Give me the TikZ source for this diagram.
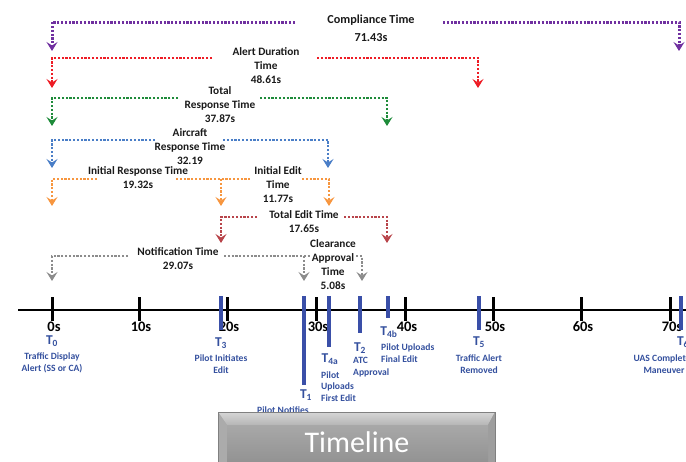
\documentclass[tikz,border=0pt]{standalone}
\usepackage{fontspec}
\setmainfont{Carlito}
\usetikzlibrary{arrows.meta}
\definecolor{cPurple}{HTML}{7030A0}
\definecolor{cRed}{HTML}{EE1C25}
\definecolor{cGreen}{HTML}{1E8B3A}
\definecolor{cBlue}{HTML}{4A7EC7}
\definecolor{cOrange}{HTML}{F7963F}
\definecolor{cDarkRed}{HTML}{B8444A}
\definecolor{cGray}{HTML}{8C8C8C}
\definecolor{cBar}{HTML}{3A4FA8}
\definecolor{cLabel}{HTML}{34509E}
\definecolor{cText}{HTML}{1A1A1A}
\definecolor{plateTop}{HTML}{D6D6D6}
\definecolor{plateBevel}{HTML}{B6B6B6}
\definecolor{plateSide}{HTML}{ABABAB}
\definecolor{plateSideR}{HTML}{9E9E9E}
\definecolor{plateFaceT}{HTML}{A8A8A8}
\definecolor{plateFaceB}{HTML}{8E8E8E}
\begin{document}
\begin{tikzpicture}[x=1pt,y=-1pt,
  seg/.style={line width=2.6pt, dash pattern=on 2.2pt off 1.6pt},
  span/.style={seg, -{Stealth[length=9pt, width=11pt, inset=3.5pt]}},
  spanlabel/.style={font=\fontsize{11.3}{14}\selectfont\bfseries, text=cText,
    align=center, inner sep=0pt},
  tick/.style={line width=3pt, black},
  bar/.style={line width=3.4pt, cBar},
  ticklabel/.style={font=\fontsize{14.5}{15}\selectfont\bfseries, inner sep=0pt},
  tname/.style={font=\fontsize{13.5}{14}\selectfont\bfseries, text=cLabel, inner sep=0pt},
  event/.style={font=\fontsize{9.6}{11.5}\selectfont\bfseries, text=cLabel,
    inner sep=0pt},
]
\clip (0,0) rectangle (686,461);
\useasboundingbox (0,0) rectangle (686,461);

% ---------- span brackets ----------
% Compliance time
\node[spanlabel, font=\fontsize{12.2}{18}\selectfont\bfseries] (compl) at (371,28) {Compliance Time\\71.43s};
\coordinate (complL) at (295,22); \coordinate (complLa) at (52,51);
\coordinate (complR) at (443,22); \coordinate (complRa) at (679,51);
\draw[span, cPurple, line width=3pt] (complL) -| (complLa);
\draw[span, cPurple, line width=3pt] (complR) -| (complRa);

% Alert duration time
\node[spanlabel] (alert) at (266,66) {Alert Duration\\Time\\48.61s};
\coordinate (alertL) at (212,58); \coordinate (alertLa) at (52,88);
\coordinate (alertR) at (317,58); \coordinate (alertRa) at (478,88);
\draw[span, cRed] (alertL) -| (alertLa);
\draw[span, cRed] (alertR) -| (alertRa);

% Total response time
\node[spanlabel] (totresp) at (220,105) {Total\\Response Time\\37.87s};
\coordinate (totrespL) at (178,98); \coordinate (totrespLa) at (52,126);
\coordinate (totrespR) at (260,98); \coordinate (totrespRa) at (387,126);
\draw[span, cGreen] (totrespL) -| (totrespLa);
\draw[span, cGreen] (totrespR) -| (totrespRa);

% Aircraft response time
\node[spanlabel] (acresp) at (190,147) {Aircraft\\Response Time\\32.19};
\coordinate (acrespL) at (155,140); \coordinate (acrespLa) at (52,168);
\coordinate (acrespR) at (223,140); \coordinate (acrespRa) at (328,168);
\draw[span, cBlue] (acrespL) -| (acrespLa);
\draw[span, cBlue] (acrespR) -| (acrespRa);

% Initial response time and initial edit time (shared leg at T3)
\node[spanlabel] (inresp) at (138,178) {Initial Response Time\\19.32s};
\node[spanlabel] (inedit) at (278,185) {Initial Edit\\Time\\11.77s};
\coordinate (inrespL) at (97,179); \coordinate (inrespLa) at (52,206);
\coordinate (inrespR) at (176,179); \coordinate (midAt) at (221,179);
\coordinate (midA) at (221,206);
\coordinate (ineditL) at (250,179);
\coordinate (ineditR) at (302,179); \coordinate (ineditRa) at (329,206);
\draw[span, cOrange] (inrespL) -| (inrespLa);
\draw[seg, cOrange] (inrespR) -- (ineditL);
\draw[span, cOrange] (midAt) -- (midA);
\draw[span, cOrange] (ineditR) -| (ineditRa);

% Total edit time
\node[spanlabel] (totedit) at (304,222) {Total Edit Time\\17.65s};
\coordinate (toteditL) at (257,217); \coordinate (toteditLa) at (221,243);
\coordinate (toteditR) at (344,217); \coordinate (toteditRa) at (387,243);
\draw[span, cDarkRed] (toteditL) -| (toteditLa);
\draw[span, cDarkRed] (toteditR) -| (toteditRa);

% Notification time and clearance approval time (shared leg at T1)
\node[spanlabel] (notif) at (178,259) {Notification Time\\29.07s};
\node[spanlabel] (clear) at (333,265) {Clearance\\Approval\\Time\\5.08s};
\coordinate (notifL) at (128,256); \coordinate (notifLa) at (52,281);
\coordinate (notifR) at (224,256); \coordinate (midBt) at (304,256);
\coordinate (midB) at (304,281);
\coordinate (clearL) at (310,256);
\coordinate (clearR) at (356,256); \coordinate (clearRa) at (362,281);
\draw[span, cGray] (notifL) -| (notifLa);
\draw[seg, cGray] (notifR) -- (clearL);
\draw[span, cGray] (midBt) -- (midB);
\draw[span, cGray] (clearR) -| (clearRa);

% ---------- axis ----------
\coordinate (axL) at (18,310); \coordinate (axR) at (686,310);
\draw[line width=2.6pt] (axL) -- (axR);
\foreach \i/\x in {0/52,10/139,20/227,30/316,40/405,50/493,60/581,70/670} {
  \coordinate (tk\i a) at (\x,297); \coordinate (tk\i b) at (\x,321);
  \draw[tick] (tk\i a) -- (tk\i b);
  \node[ticklabel] (tl\i) at (\x+2,327) {\i s};
}

% ---------- event labels ----------
\node[tname] (t0) at (52,341) {T\textsubscript{0}};
\node[event, align=center] (e0) at (52,363) {Traffic Display\\Alert (SS or CA)};
\node[tname] (t3) at (221,343) {T\textsubscript{3}};
\node[event, align=center] (e3) at (221,364) {Pilot Initiates\\Edit};
\node[tname] (t1) at (306,395) {T\textsubscript{1}};
\node[event, align=center] (e1) at (283,410) {Pilot Notifies};
\node[tname] (t4a) at (330,359) {T\textsubscript{4a}};
\node[event, align=left, anchor=west] (e4a) at (321,386.5) {Pilot\\Uploads\\First Edit};
\node[tname] (t2) at (360,348) {T\textsubscript{2}};
\node[event, align=left, anchor=west] (e2) at (353,367) {ATC\\Approval};
\node[tname] (t4b) at (389,332) {T\textsubscript{4b}};
\node[event, align=left, anchor=west] (e4b) at (381,353) {Pilot Uploads\\Final Edit};
\node[tname] (t5) at (479,342) {T\textsubscript{5}};
\node[event, align=center] (e5) at (479,364) {Traffic Alert\\Removed};
\node[tname] (t6) at (683,342) {T\textsubscript{6}};
\node[event, align=center] (e6) at (664,364) {UAS Completes\\Maneuver};

% ---------- event bars ----------
\foreach \n/\x/\y in {b3/221/330, b1/304/385, b4a/329/347, b2/360/333,
                      b4b/388/318, b5/479/330, b6/681/330} {
  \coordinate (\n a) at (\x,296); \coordinate (\n b) at (\x,\y);
  \draw[bar] (\n a) -- (\n b);
}

% ---------- bevelled title plate ----------
\fill[plateSide] (218,412) rectangle (495,470);
% top bevel
\shade[top color=plateTop, bottom color=plateBevel]
  (218,412) -- (495,412) -- (488,425) -- (227,425) -- cycle;
% left and right bevels
\fill[plateSide] (218,412) -- (227,425) -- (227,470) -- (218,470) -- cycle;
\fill[plateSideR] (495,412) -- (488,425) -- (488,470) -- (495,470) -- cycle;
% face
\shade[top color=plateFaceT, bottom color=plateFaceB] (227,425) rectangle (488,470);
\draw[gray, line width=0.8pt] (218,470) -- (218,412) -- (495,412) -- (495,470);
\node[font=\fontsize{30}{32}\selectfont, text=white] (title) at (357,442) {Timeline};
\end{tikzpicture}
\end{document}
